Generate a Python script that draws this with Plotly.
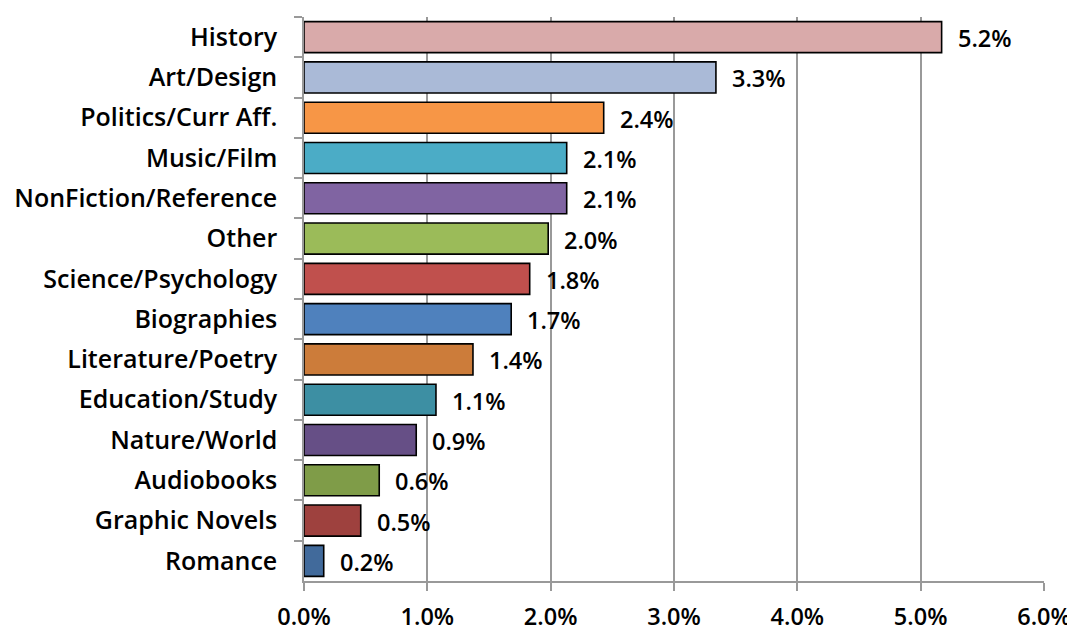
import plotly.graph_objects as go

categories = ["History", "Art/Design", "Politics/Curr Aff.", "Music/Film",
              "NonFiction/Reference", "Other", "Science/Psychology", "Biographies",
              "Literature/Poetry", "Education/Study", "Nature/World", "Audiobooks",
              "Graphic Novels", "Romance"]
values = [5.17, 3.34, 2.43, 2.13, 2.13, 1.98, 1.83, 1.68, 1.37, 1.07, 0.91, 0.61, 0.46, 0.16]
colors = ["#D9AAAA", "#AABAD7", "#F79646", "#4BACC6", "#8064A2", "#9BBB59", "#C0504D",
          "#4F81BD", "#CC7C3A", "#3D8FA3", "#664F86", "#7F9C48", "#9E413E", "#416A9B"]
x_ticks = [0, 1, 2, 3, 4, 5, 6]

FONT = "Open Sans"
FS = 23

fig = go.Figure()
fig.add_trace(go.Bar(
    x=values, y=categories, orientation="h",
    marker=dict(color=colors, line=dict(color="#000000", width=1.6)),
    hoverinfo="skip",
))

for c, v in zip(categories, values):
    fig.add_annotation(x=v, y=c, text=f"{v:.1f}%", showarrow=False,
                       xanchor="left", yanchor="middle", xshift=14, yshift=-1,
                       font=dict(family=FONT, size=FS + 0.5, color="#000000", weight=600))

fig.update_layout(
    width=1067, height=624,
    margin=dict(l=296, r=31, t=9, b=51),
    paper_bgcolor="white", plot_bgcolor="white",
    showlegend=False,
    bargap=0.23,
    font=dict(family=FONT, size=FS, color="#000000", weight=600),
)
fig.update_xaxes(
    range=[0, 6], tickvals=x_ticks, ticktext=[f"{t:.1f}%" for t in x_ticks],
    showgrid=True, gridcolor="#999999", gridwidth=1.5,
    showline=True, linecolor="#999999", linewidth=1.5,
    ticks="outside", ticklen=8, tickcolor="#999999", tickwidth=1.5,
    zeroline=False, ticklabelstandoff=6, automargin=False,
    tickfont=dict(family=FONT, size=FS + 0.5, color="#000000", weight=600),
)
fig.update_yaxes(
    autorange="reversed", showgrid=False,
    showline=True, linecolor="#999999", linewidth=1.5,
    ticks="outside", ticklen=8, tickcolor="#999999", tickwidth=1.5,
    tickson="boundaries", ticklabelstandoff=20, automargin=False,
    tickfont=dict(family=FONT, size=25, color="#000000", weight=600),
)

fig.write_html("out.html")
